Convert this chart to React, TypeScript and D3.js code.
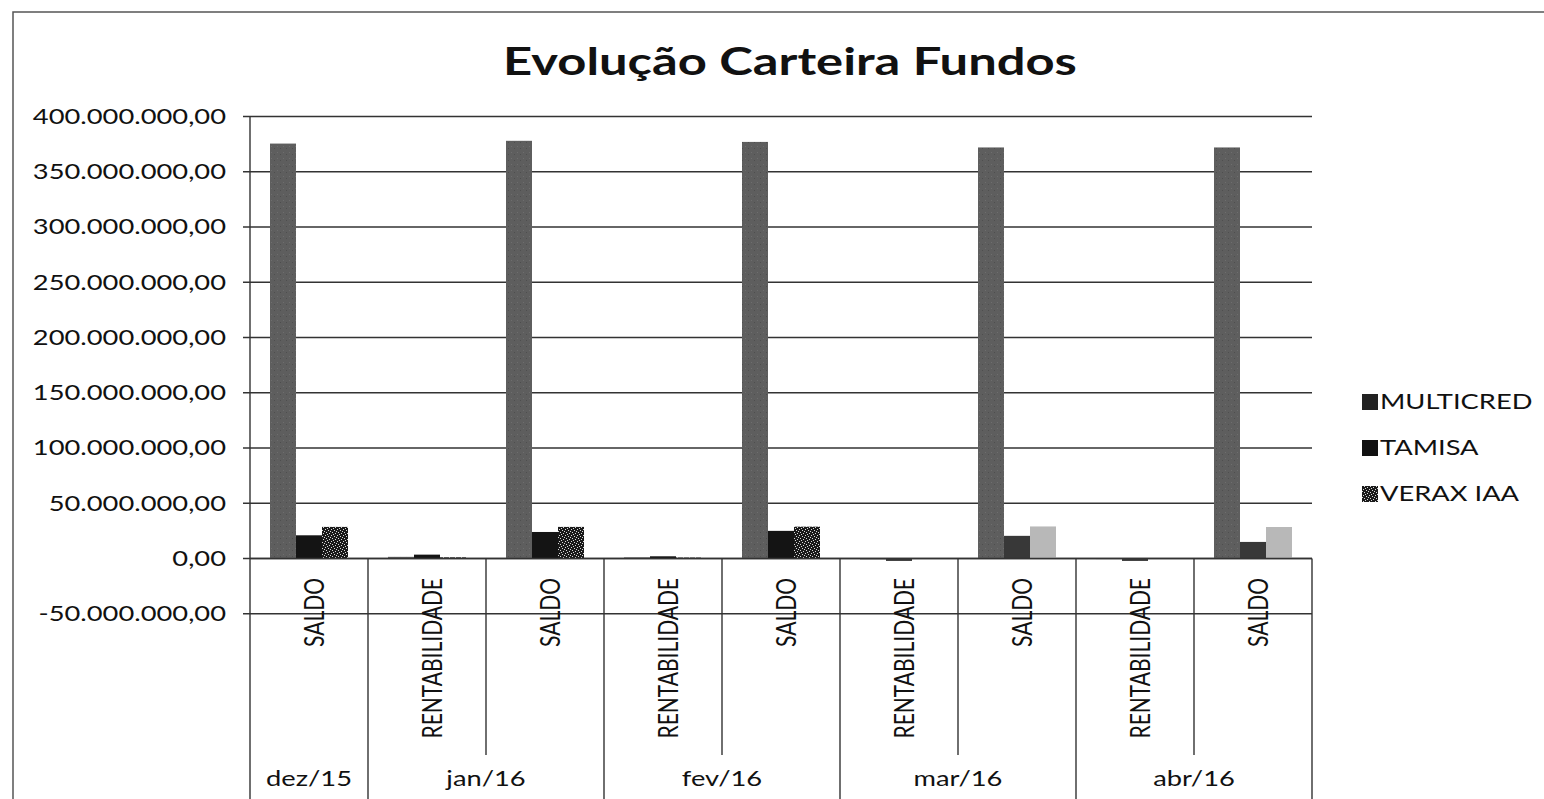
import React from "react";
import * as d3 from "d3";

// column labels (lower level) and month groups (upper level)
const categories = ["SALDO", "RENTABILIDADE", "SALDO", "RENTABILIDADE", "SALDO", "RENTABILIDADE", "SALDO", "RENTABILIDADE", "SALDO"];
const months = ["dez/15", "jan/16", "fev/16", "mar/16", "abr/16"];
const monthSpans = [[0, 0], [1, 2], [3, 4], [5, 6], [7, 8]];

const seriesNames = ["MULTICRED", "TAMISA", "VERAX IAA"];
const multicred = [375500000, 1500000, 378000000, 1000000, 377000000, -800000, 372000000, -500000, 372000000];
const tamisa = [21000000, 3500000, 24000000, 2000000, 25000000, -2200000, 20500000, -2200000, 15000000];
const verax = [28600000, 1000000, 28600000, 800000, 28800000, -400000, 29000000, -200000, 28500000];

const yTicks = [-50000000, 0, 50000000, 100000000, 150000000, 200000000, 250000000, 300000000, 350000000, 400000000];

const FONT = "Lato, 'Liberation Sans', sans-serif";
const SX = 1.3; // horizontal text stretch, the reference type is wide

const fmt = (v: number) => {
  const neg = v < 0;
  const s = Math.abs(v).toFixed(0).replace(/\B(?=(\d{3})+(?!\d))/g, ".");
  return (neg ? "-" : "") + s + ",00";
};

const T = ({ x, y, anchor = "start", size = 21, weight = "normal", dy = "0", children }: any) => (
  <text transform={`translate(${x},${y}) scale(${SX},1)`} textAnchor={anchor} fontSize={size} fontWeight={weight} dy={dy} fill="#111">
    {children}
  </text>
);

export default function App() {
  const left = 250, right = 1312, top = 116.5, zeroY = 558.5;
  const y = d3.scaleLinear().domain([-50000000, 400000000]).range([zeroY + (zeroY - top) / 8, top]);
  const x0 = d3.scaleBand<number>().domain(d3.range(categories.length)).range([left, right]).padding(0);
  const bw = x0.bandwidth();
  const x1 = d3.scaleBand<number>().domain([0, 1, 2]).range([(bw - 78) / 2, (bw + 78) / 2]).padding(0);

  const data = [multicred, tamisa, verax];
  // per-column fills (the scan shows the last two VERAX / TAMISA bars lighter)
  const fills = [
    () => "url(#texMulti)",
    (i: number) => (i >= 5 ? "#383838" : "#141414"),
    (i: number) => (i >= 5 ? "#b8b8b8" : "url(#texVerax)"),
  ];

  const speck: [number, number][] = [[1, 1], [4, 2], [2, 4], [5, 5], [0, 3], [3, 0]];

  return (
    <svg width={1544} height={799} style={{ position: "fixed", left: 0, top: 0, background: "#fff" }} fontFamily={FONT}>
      <defs>
        <pattern id="texMulti" width="6" height="6" patternUnits="userSpaceOnUse">
          <rect width="6" height="6" fill="#5e5e5e" />
          <rect x="1" y="2" width="1" height="1" fill="#6e6e6e" />
          <rect x="4" y="4" width="1" height="1" fill="#4e4e4e" />
        </pattern>
        <pattern id="texVerax" width="6" height="6" patternUnits="userSpaceOnUse">
          <rect width="6" height="6" fill="#1a1a1a" />
          {speck.map(([a, b], k) => (
            <rect key={k} x={a} y={b} width="1" height="1" fill="#d8d8d8" />
          ))}
        </pattern>
      </defs>

      {/* outer chart border */}
      <rect x={13} y={12} width={1540} height={800} fill="none" stroke="#555" strokeWidth={1.5} />

      <T x={790} y={75} anchor="middle" size={39} weight="bold">
        Evolução Carteira Fundos
      </T>

      {/* gridlines */}
      {yTicks.map((t) => (
        <g key={t}>
          <line x1={left - 7} x2={right} y1={y(t)} y2={y(t)} stroke="#333" strokeWidth={1.4} />
          <T x={226} y={y(t)} dy="0.35em" anchor="end">
            {fmt(t)}
          </T>
        </g>
      ))}
      <line x1={left} x2={left} y1={top} y2={799} stroke="#333" strokeWidth={1.4} />

      {/* bars */}
      {data.map((vals, s) =>
        vals.map((v, i) => (
          <rect
            key={s + "-" + i}
            x={(x0(i) as number) + (x1(s) as number)}
            width={x1.bandwidth()}
            y={y(Math.max(0, v))}
            height={Math.abs(y(v) - y(0))}
            fill={fills[s](i)}
          />
        ))
      )}
      <line x1={left} x2={right} y1={y(0)} y2={y(0)} stroke="#333" strokeWidth={1.4} />

      {/* category separators */}
      {categories.map((_, i) => {
        if (i === 0) return null;
        const isMonthEdge = monthSpans.some((m) => m[0] === i);
        return (
          <line key={"sep" + i} x1={x0(i)} x2={x0(i)} y1={y(0)} y2={isMonthEdge ? 799 : 755} stroke="#333" strokeWidth={1.4} />
        );
      })}
      <line x1={right} x2={right} y1={y(0)} y2={799} stroke="#333" strokeWidth={1.4} />

      {/* category labels */}
      {categories.map((c, i) => {
        const cx = (x0(i) as number) + bw / 2;
        return (
          <text key={"cat" + i} transform={`translate(${cx + 15},578) rotate(-90) scale(1,1.27)`} textAnchor="end" fontSize={21} fill="#111">
            {c}
          </text>
        );
      })}

      {/* month labels */}
      {months.map((m, k) => {
        const [a, b] = monthSpans[k];
        const cx = ((x0(a) as number) + (x0(b) as number) + bw) / 2;
        return (
          <T key={m} x={cx} y={786} anchor="middle">
            {m}
          </T>
        );
      })}

      {/* legend */}
      {seriesNames.map((n, s) => (
        <g key={n} transform={`translate(1362,${402 + s * 46})`}>
          <rect x={0} y={-8} width={16} height={16} fill={s === 0 ? "#222" : s === 1 ? "#111" : "url(#texVerax)"} />
          <T x={18} y={0} dy="0.35em">
            {n}
          </T>
        </g>
      ))}
    </svg>
  );
}
